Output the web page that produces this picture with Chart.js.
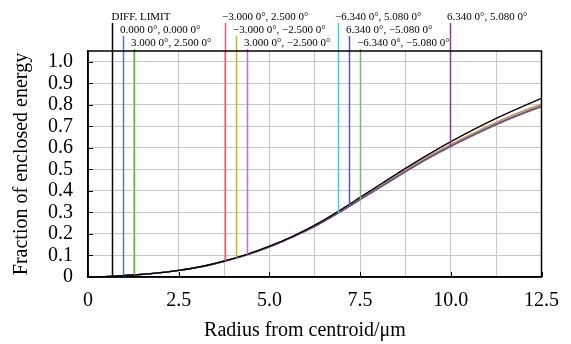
<!DOCTYPE html>
<html>
<head>
<meta charset="utf-8">
<script src="https://cdn.jsdelivr.net/npm/chart.js@4.4.0/dist/chart.umd.min.js"></script>
<style>
  html, body { margin: 0; padding: 0; background: #fff; }
</style>
</head>
<body>
<canvas id="eeChart" width="571" height="344"></canvas>
<script>
// === Data ===
const radius = [0, 0.625, 1.25, 1.875, 2.5, 3.125, 3.75, 4.375, 5.0, 5.625, 6.25,
                6.875, 7.5, 8.125, 8.75, 9.375, 10.0, 10.625, 11.25, 11.875, 12.5];

const fieldNames = [
  "DIFF. LIMIT",
  "0.000 0°, 0.000 0°",
  "3.000 0°, 2.500 0°",
  "−3.000 0°, 2.500 0°",
  "−3.000 0°, −2.500 0°",
  "3.000 0°, −2.500 0°",
  "−6.340 0°, 5.080 0°",
  "6.340 0°, −5.080 0°",
  "−6.340 0°, −5.080 0°",
  "6.340 0°, 5.080 0°"
];
const fieldColors = ["#000000", "#4a78c8", "#5cc23a", "#ee5a6a", "#c0b820",
                     "#b075c8", "#48c8dc", "#5555b5", "#6cc06c", "#8c3c8c"];

const diffLimit = [0, 0.003, 0.009, 0.018, 0.031, 0.049, 0.074, 0.105, 0.143, 0.188, 0.241,
                   0.303, 0.370, 0.438, 0.505, 0.569, 0.629, 0.685, 0.737, 0.785, 0.830];
const field1 = [0, 0.003, 0.009, 0.018, 0.031, 0.048, 0.073, 0.103, 0.140, 0.185, 0.236,
                0.297, 0.362, 0.428, 0.494, 0.556, 0.612, 0.664, 0.713, 0.757, 0.797];
const field2 = [0, 0.003, 0.009, 0.018, 0.031, 0.048, 0.073, 0.103, 0.140, 0.185, 0.236,
                0.296, 0.361, 0.427, 0.493, 0.555, 0.611, 0.663, 0.712, 0.756, 0.796];
const field3 = [0, 0.003, 0.009, 0.018, 0.031, 0.048, 0.073, 0.103, 0.140, 0.185, 0.236,
                0.298, 0.364, 0.430, 0.497, 0.559, 0.616, 0.669, 0.718, 0.763, 0.803];
const field4 = [0, 0.003, 0.009, 0.018, 0.031, 0.048, 0.073, 0.103, 0.140, 0.185, 0.236,
                0.297, 0.363, 0.429, 0.495, 0.558, 0.614, 0.667, 0.716, 0.760, 0.800];
const field5 = [0, 0.003, 0.009, 0.018, 0.031, 0.048, 0.073, 0.103, 0.140, 0.185, 0.236,
                0.296, 0.360, 0.426, 0.491, 0.553, 0.609, 0.661, 0.710, 0.754, 0.794];
const field6 = [0, 0.003, 0.009, 0.018, 0.031, 0.048, 0.073, 0.103, 0.140, 0.185, 0.236,
                0.296, 0.361, 0.427, 0.492, 0.554, 0.610, 0.662, 0.711, 0.755, 0.795];
const field7 = [0, 0.003, 0.009, 0.018, 0.031, 0.048, 0.073, 0.103, 0.140, 0.185, 0.235,
                0.295, 0.359, 0.424, 0.489, 0.551, 0.607, 0.659, 0.708, 0.752, 0.792];
const field8 = [0, 0.003, 0.009, 0.018, 0.031, 0.048, 0.073, 0.103, 0.140, 0.185, 0.235,
                0.295, 0.359, 0.424, 0.489, 0.550, 0.606, 0.658, 0.707, 0.751, 0.791];
const field9 = [0, 0.003, 0.009, 0.018, 0.031, 0.048, 0.073, 0.103, 0.140, 0.185, 0.235,
                0.295, 0.360, 0.425, 0.490, 0.552, 0.608, 0.660, 0.709, 0.753, 0.793];
const seriesValues = [diffLimit, field1, field2, field3, field4, field5, field6, field7, field8, field9];

// label markers (radius where each label line sits, and its text row)
const markerRadius = [0.66, 0.97, 1.28, 3.77, 4.08, 4.39, 6.88, 7.19, 7.50, 9.99];
const markerRow = [0, 1, 2, 0, 1, 2, 0, 1, 2, 0];

// ticks
const xTickValues = [0, 1.25, 2.5, 3.75, 5.0, 6.25, 7.5, 8.75, 10.0, 11.25, 12.5];
const xTickLabels = ["0", "", "2.5", "", "5.0", "", "7.5", "", "10.0", "", "12.5"];
const yTickValues = [0, 0.1, 0.2, 0.3, 0.4, 0.5, 0.6, 0.7, 0.8, 0.9, 1.0];
const yTickLabels = ["0", "0.1", "0.2", "0.3", "0.4", "0.5", "0.6", "0.7", "0.8", "0.9", "1.0"];
const xTitle = "Radius from centroid/μm";
const yTitle = "Fraction of enclosed energy";

const FONT = "'Liberation Serif', 'Times New Roman', serif";

// === Helpers ===
function valueAt(values, r) {
  for (let i = 1; i < radius.length; i++) {
    if (r <= radius[i]) {
      const t = (r - radius[i - 1]) / (radius[i] - radius[i - 1]);
      return values[i - 1] + t * (values[i] - values[i - 1]);
    }
  }
  return values[values.length - 1];
}

// === Plugin: label lines, frame, inward ticks, x title ===
const decorPlugin = {
  id: "decor",
  afterDatasetsDraw(chart) {
    const { ctx, scales: { x, y } } = chart;
    const rowBase = [19.5, 32.5, 45.5];
    const rowTop = [23, 36, 49];
    ctx.save();
    ctx.font = "11px " + FONT;
    ctx.textBaseline = "alphabetic";
    ctx.textAlign = "left";
    markerRadius.forEach((r, i) => {
      const px = Math.round(x.getPixelForValue(r)) + 0.5;
      const py = y.getPixelForValue(valueAt(seriesValues[i], r));
      const row = markerRow[i];
      ctx.strokeStyle = fieldColors[i];
      ctx.lineWidth = 1.5;
      ctx.beginPath();
      ctx.moveTo(px, rowTop[row]);
      ctx.lineTo(px, py);
      ctx.stroke();
      ctx.fillStyle = "#000";
      ctx.fillText(fieldNames[i], px - (i === 0 ? 1 : 3.5), rowBase[row]);
    });
    ctx.restore();
  },
  afterDraw(chart) {
    const { ctx, chartArea: a, scales: { x, y } } = chart;
    ctx.save();
    ctx.strokeStyle = "#000";
    ctx.lineWidth = 1.5;
    ctx.strokeRect(a.left, a.top, a.right - a.left, a.bottom - a.top);
    ctx.lineWidth = 1;
    ctx.beginPath();
    y.ticks.forEach(t => {
      const py = Math.round(y.getPixelForValue(t.value)) + 0.5;
      ctx.moveTo(a.left, py);
      ctx.lineTo(a.left + 5, py);
    });
    x.ticks.forEach((t, i) => {
      if (!xTickLabels[i]) return;
      const px = Math.round(x.getPixelForValue(t.value)) + 0.5;
      ctx.moveTo(px, a.bottom);
      ctx.lineTo(px, a.bottom - 5);
    });
    ctx.stroke();
    ctx.fillStyle = "#000";
    ctx.font = "20px " + FONT;
    ctx.textAlign = "center";
    ctx.textBaseline = "middle";
    ctx.fillText(xTitle, 305, 331);
    ctx.restore();
  }
};

// === Chart ===
const datasets = seriesValues.map((vals, i) => ({
  label: fieldNames[i],
  data: vals.map((v, k) => ({ x: radius[k], y: v })),
  borderColor: fieldColors[i],
  borderWidth: 1.4,
  pointRadius: 0,
  cubicInterpolationMode: "monotone",
  fill: false,
  order: i === 0 ? 0 : 10 - i
}));

new Chart(document.getElementById("eeChart"), {
  type: "line",
  data: { datasets },
  options: {
    responsive: false,
    animation: false,
    layout: { padding: { top: 51, right: 29, left: 0, bottom: 0 } },
    plugins: { legend: { display: false }, tooltip: { enabled: false } },
    scales: {
      x: {
        type: "linear",
        min: 0,
        max: 12.5,
        grid: { color: "#c8c8c8", lineWidth: 1, drawTicks: false },
        border: { color: "#000", width: 1.5 },
        ticks: {
          padding: 12,
          color: "#000",
          font: { family: FONT, size: 20 },
          maxRotation: 0,
          autoSkip: false,
          callback: (v, i) => xTickLabels[i]
        },
        afterBuildTicks: (s) => { s.ticks = xTickValues.map(v => ({ value: v })); },
        afterFit: (s) => { s.height = 67; }
      },
      y: {
        min: 0,
        max: 1.05,
        grid: { color: "#c8c8c8", lineWidth: 1, drawTicks: false },
        border: { color: "#000", width: 1.5 },
        ticks: {
          padding: 15,
          color: "#000",
          autoSkip: false,
          font: { family: FONT, size: 20 },
          callback: (v, i) => yTickLabels[i]
        },
        afterBuildTicks: (s) => { s.ticks = yTickValues.map(v => ({ value: v })); },
        title: {
          display: true,
          text: yTitle,
          color: "#000",
          font: { family: FONT, size: 20 },
          padding: { top: 10, bottom: 0 }
        },
        afterFit: (s) => { s.width = 88; }
      }
    }
  },
  plugins: [decorPlugin]
});
</script>
</body>
</html>
